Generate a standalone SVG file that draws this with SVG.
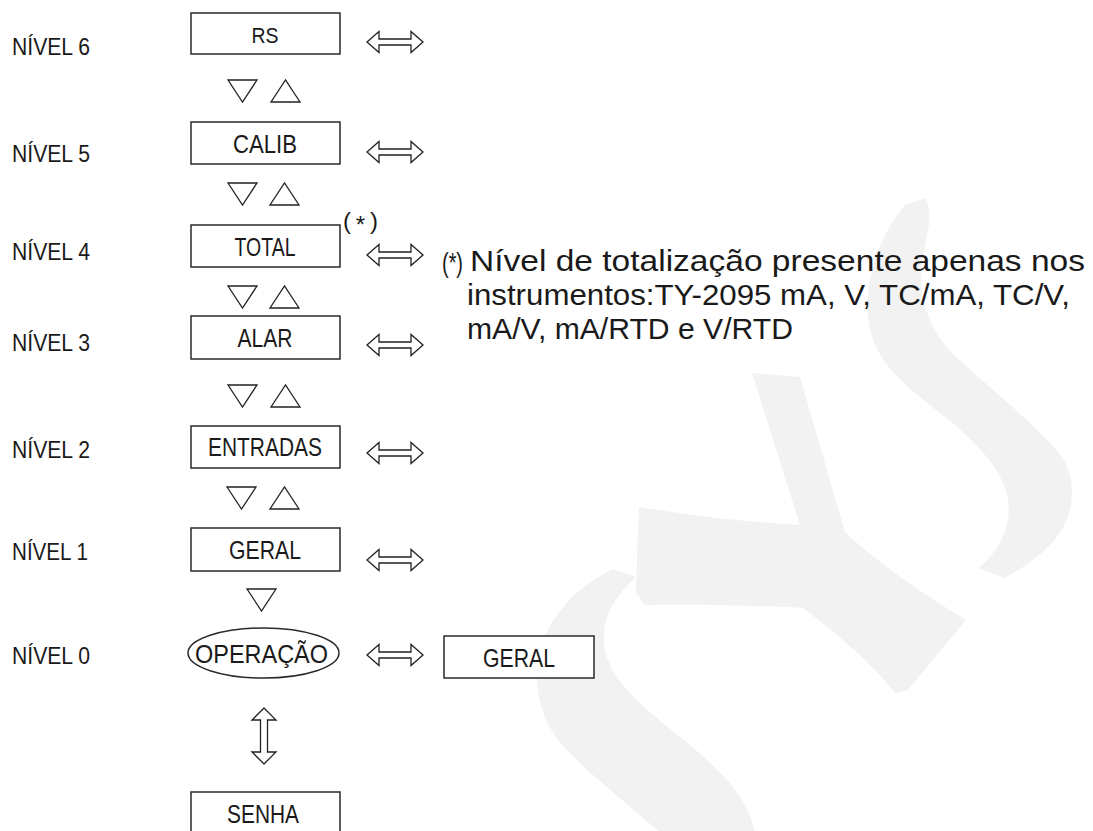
<svg xmlns="http://www.w3.org/2000/svg" xmlns:xlink="http://www.w3.org/1999/xlink" width="1093" height="831" viewBox="0 0 1093 831">
<defs>
<style>
.t{font-family:"Liberation Sans",Arial,sans-serif;fill:#1a1a1a}
.lv{font-size:24px}
.bx{font-size:25px;text-anchor:middle}
.fn{font-size:29px}
.box{fill:#fff;stroke:#2a2a2a;stroke-width:1.5}
.ar{fill:#fff;stroke:#222;stroke-width:1.3;stroke-linejoin:miter}
.wm{fill:#f2f2f2}
</style>
<path id="dn" d="M0,0 L29,0 L14.5,22 Z"/>
<path id="up" d="M0,22 L29,22 L14.5,0 Z"/>
<path id="harr" d="M0,0 L12,-10.5 L12,-3 L44,-3 L44,-10.5 L56,0 L44,10.5 L44,3 L12,3 L12,10.5 Z"/>
</defs>
<rect x="0" y="0" width="1093" height="831" fill="#fff"/>
<g id="watermark" class="wm">
<path d="M905,205 L925,198 C935,215 925,240 922,265 C918,300 930,335 962,362 C990,388 1030,420 1058,452 C1080,478 1075,520 1050,545 C1035,560 1020,570 1004,578 L979,568 C1000,550 1012,525 1008,500 C1003,472 985,452 955,425 C915,393 880,370 870,330 C862,290 875,240 905,205 Z"/>
<path d="M752,373 L800,377 L845,532 C880,565 925,595 966,620 L908,690 L895,693 C870,662 840,636 803,608 C750,605 690,604 644,605 L636,592 C637,560 638,530 639,507 C700,517 750,522 800,525 Z"/>
<path d="M613,569 L636,577 C610,600 600,625 605,650 C612,685 650,712 690,745 C725,775 750,800 755,835 L663,835 C635,810 590,775 565,748 C540,720 535,690 538,665 C542,625 570,590 613,569 Z"/>
</g>
<g id="levels" class="t lv">
<text x="12" y="55" textLength="78" lengthAdjust="spacingAndGlyphs">NÍVEL 6</text>
<text x="12" y="162" textLength="78" lengthAdjust="spacingAndGlyphs">NÍVEL 5</text>
<text x="12" y="260" textLength="78" lengthAdjust="spacingAndGlyphs">NÍVEL 4</text>
<text x="12" y="351" textLength="78" lengthAdjust="spacingAndGlyphs">NÍVEL 3</text>
<text x="12" y="458" textLength="78" lengthAdjust="spacingAndGlyphs">NÍVEL 2</text>
<text x="12" y="560" textLength="76" lengthAdjust="spacingAndGlyphs">NÍVEL 1</text>
<text x="12" y="664" textLength="78" lengthAdjust="spacingAndGlyphs">NÍVEL 0</text>
</g>
<g id="node-rs">
<rect class="box" x="191" y="13" width="149" height="41"/>
<text class="t" x="265" y="43" font-size="22" text-anchor="middle" textLength="27" lengthAdjust="spacingAndGlyphs">RS</text>
</g>
<g id="node-calib">
<rect class="box" x="191" y="122" width="149" height="42"/>
<text class="t bx" x="265" y="153" textLength="64" lengthAdjust="spacingAndGlyphs">CALIB</text>
</g>
<g id="node-total">
<rect class="box" x="191" y="225" width="149" height="42"/>
<text class="t bx" x="265" y="256" textLength="61" lengthAdjust="spacingAndGlyphs">TOTAL</text>
<text class="t" x="343" y="229" font-size="24" textLength="35" lengthAdjust="spacing">(<tspan dy="4">*</tspan><tspan dy="-4">)</tspan></text>
</g>
<g id="node-alar">
<rect class="box" x="191" y="316" width="149" height="43"/>
<text class="t bx" x="265" y="347" textLength="55" lengthAdjust="spacingAndGlyphs">ALAR</text>
</g>
<g id="node-entradas">
<rect class="box" x="191" y="426" width="149" height="42"/>
<text class="t bx" x="265" y="456" textLength="114" lengthAdjust="spacingAndGlyphs">ENTRADAS</text>
</g>
<g id="node-geral">
<rect class="box" x="191" y="528" width="149" height="43"/>
<text class="t bx" x="265" y="559" textLength="72" lengthAdjust="spacingAndGlyphs">GERAL</text>
</g>
<g id="node-operacao">
<ellipse class="box" cx="263.5" cy="653" rx="75.5" ry="25"/>
<text class="t bx" x="261.5" y="663" textLength="133" lengthAdjust="spacingAndGlyphs">OPERAÇÃO</text>
</g>
<g id="node-geral-op">
<rect class="box" x="444" y="636" width="150" height="42"/>
<text class="t bx" x="519" y="667" textLength="72" lengthAdjust="spacingAndGlyphs">GERAL</text>
</g>
<g id="node-senha">
<rect class="box" x="191" y="792" width="149" height="46"/>
<text class="t bx" x="263" y="823" textLength="72" lengthAdjust="spacingAndGlyphs">SENHA</text>
</g>
<g id="connectors" class="ar">
<use xlink:href="#dn" x="228" y="80"/><use xlink:href="#up" x="271" y="80"/>
<use xlink:href="#dn" x="228" y="183"/><use xlink:href="#up" x="270" y="183"/>
<use xlink:href="#dn" x="228" y="286"/><use xlink:href="#up" x="270" y="286"/>
<use xlink:href="#dn" x="228" y="385"/><use xlink:href="#up" x="271" y="385"/>
<use xlink:href="#dn" x="227" y="487"/><use xlink:href="#up" x="270" y="487"/>
<use xlink:href="#dn" x="247" y="589"/>
<use xlink:href="#harr" x="367" y="42"/>
<use xlink:href="#harr" x="367" y="152"/>
<use xlink:href="#harr" x="367" y="255"/>
<use xlink:href="#harr" x="367" y="345"/>
<use xlink:href="#harr" x="367" y="453"/>
<use xlink:href="#harr" x="367" y="560"/>
<use xlink:href="#harr" x="367" y="655"/>
<path d="M264,708 L276,720 L267.5,720 L267.5,752 L276,752 L264,764 L252,752 L260.5,752 L260.5,720 L252,720 Z"/>
</g>
<g id="footnote" class="t fn">
<text x="442" y="272" font-size="28" textLength="21" lengthAdjust="spacingAndGlyphs">(*)</text>
<text x="470" y="271" textLength="615" lengthAdjust="spacingAndGlyphs">Nível de totalização presente apenas nos</text>
<text x="467" y="305" textLength="603" lengthAdjust="spacingAndGlyphs">instrumentos:TY-2095 mA, V, TC/mA, TC/V,</text>
<text x="467" y="339" textLength="326" lengthAdjust="spacingAndGlyphs">mA/V, mA/RTD e V/RTD</text>
</g>
</svg>
